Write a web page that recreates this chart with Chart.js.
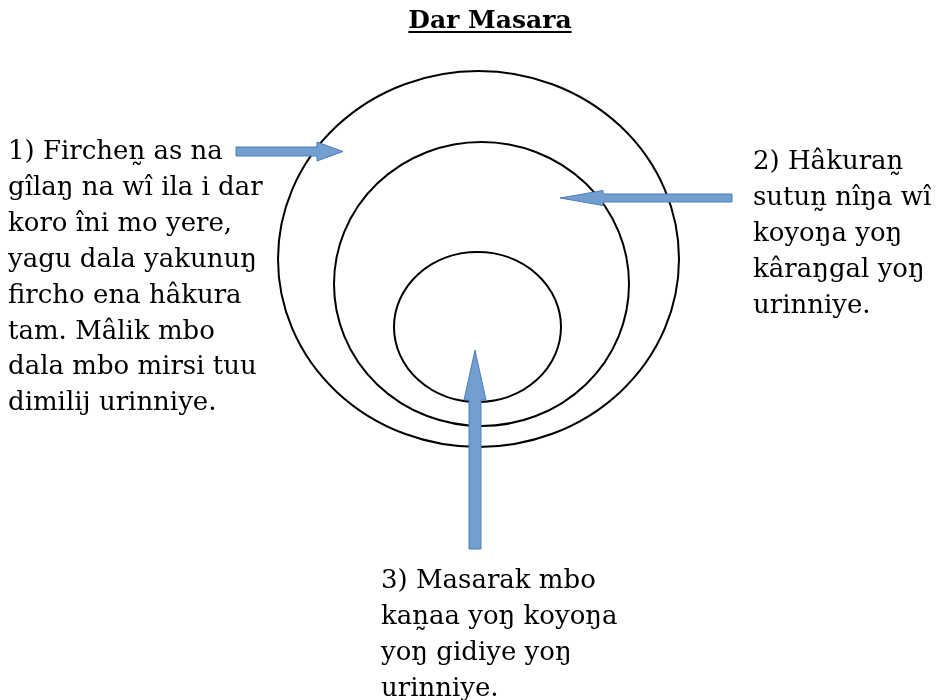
<!DOCTYPE html>
<html>
<head>
<meta charset="utf-8">
<title>Dar Masara</title>
<script src="https://cdn.jsdelivr.net/npm/chart.js@4.4.0/dist/chart.umd.min.js"></script>
<style>
  html, body { margin: 0; padding: 0; background: #ffffff; }
  canvas { display: block; }
</style>
</head>
<body>
<canvas id="grafico" width="941" height="700"></canvas>
<script>
// Anillos de la Dar Masara (unidades del diagrama, eje y hacia abajo)
const anillos = ["fircha", "hakura", "masarak"];
const anilloCentroX = [478.5, 481.5, 477.5];
const anilloCentroY = [259, 284, 327];
const anilloRadioX = [200.5, 147.5, 83.5];
const anilloRadioY = [188, 142, 75];

// Flechas: desde -> hasta
const flechaDesdeX = [236, 732, 475];
const flechaDesdeY = [151.5, 198, 549];
const flechaHastaX = [343, 560, 475];
const flechaHastaY = [151.5, 198, 350];

// Textos
const titulo = "Dar Masara";
const texto1 = [
    "1) Firchen\u0330 as na",
    "gîlaŋ na wî ila i dar",
    "koro îni mo yere,",
    "yagu dala yakunuŋ",
    "fircho ena hâkura",
    "tam. Mâlik mbo",
    "dala mbo mirsi tuu",
    "dimilij urinniye."
];
const texto2 = [
    "2) Hâkuran\u0330",
    "sutun\u0330 nîŋa wî",
    "koyoŋa yoŋ",
    "kâraŋgal yoŋ",
    "urinniye."
];
const texto3 = [
    "3) Masarak mbo",
    "kan\u0330aa yoŋ koyoŋa",
    "yoŋ gidiye yoŋ",
    "urinniye."
];

// Estilos
const fuente = '"DejaVu Serif", serif';
const colorFlecha = "#729fcf";
const bordeFlecha = "#4a7ebb";
const flechaMedioAncho = [4.5, 4, 6];
const flechaMedioCabeza = [9.5, 7.5, 11];
const flechaLargoCabeza = [26, 43, 50];
const bloques = [
    { lineas: texto1, x: 8, y: 159 },
    { lineas: texto2, x: 753, y: 169 },
    { lineas: texto3, x: 381, y: 588 }
];
const altoLinea = 35.9;

const diagramaPlugin = {
    id: "diagrama",
    afterDraw(chart) {
        const ctx = chart.ctx;
        const sx = chart.scales.x;
        const sy = chart.scales.y;
        const px = v => sx.getPixelForValue(v);
        const py = v => sy.getPixelForValue(v);
        const escX = Math.abs(px(1) - px(0));
        const escY = Math.abs(py(1) - py(0));

        ctx.save();

        // anillos
        ctx.strokeStyle = "#000000";
        ctx.lineWidth = 2;
        for (let i = 0; i < anillos.length; i++) {
            ctx.beginPath();
            ctx.ellipse(px(anilloCentroX[i]), py(anilloCentroY[i]),
                anilloRadioX[i] * escX, anilloRadioY[i] * escY, 0, 0, Math.PI * 2);
            ctx.stroke();
        }

        // flechas
        for (let i = 0; i < flechaDesdeX.length; i++) {
            const x0 = px(flechaDesdeX[i]), y0 = py(flechaDesdeY[i]);
            const x1 = px(flechaHastaX[i]), y1 = py(flechaHastaY[i]);
            const len = Math.hypot(x1 - x0, y1 - y0);
            const dx = (x1 - x0) / len, dy = (y1 - y0) / len;
            const nx = -dy, ny = dx;
            const w = flechaMedioAncho[i], h = flechaMedioCabeza[i];
            const bx = x1 - dx * flechaLargoCabeza[i], by = y1 - dy * flechaLargoCabeza[i];
            ctx.beginPath();
            ctx.moveTo(x0 + nx * w, y0 + ny * w);
            ctx.lineTo(bx + nx * w, by + ny * w);
            ctx.lineTo(bx + nx * h, by + ny * h);
            ctx.lineTo(x1, y1);
            ctx.lineTo(bx - nx * h, by - ny * h);
            ctx.lineTo(bx - nx * w, by - ny * w);
            ctx.lineTo(x0 - nx * w, y0 - ny * w);
            ctx.closePath();
            ctx.fillStyle = colorFlecha;
            ctx.fill();
            ctx.strokeStyle = bordeFlecha;
            ctx.lineWidth = 1;
            ctx.stroke();
        }

        // titulo subrayado
        ctx.fillStyle = "#000000";
        ctx.font = "bold 25px " + fuente;
        ctx.textAlign = "center";
        ctx.textBaseline = "alphabetic";
        ctx.fillText(titulo, px(490), py(28));
        const ancho = ctx.measureText(titulo).width;
        ctx.fillRect(px(490) - ancho / 2, py(31), ancho, 2);

        // textos
        ctx.font = "26px " + fuente;
        ctx.textAlign = "left";
        bloques.forEach(b => {
            b.lineas.forEach((linea, j) => {
                ctx.fillText(linea, px(b.x), py(b.y + j * altoLinea));
            });
        });

        ctx.restore();
    }
};

const ctx = document.getElementById("grafico").getContext("2d");
new Chart(ctx, {
    type: "scatter",
    data: {
        datasets: [{
            label: "anillos",
            data: anilloCentroX.map((x, i) => ({ x: x, y: anilloCentroY[i] })),
            pointRadius: 0,
            showLine: false
        }]
    },
    options: {
        responsive: false,
        animation: false,
        devicePixelRatio: 1,
        layout: { padding: 0 },
        scales: {
            x: { type: "linear", min: 0, max: 941, display: false },
            y: { type: "linear", min: 0, max: 700, reverse: true, display: false }
        },
        plugins: {
            legend: { display: false },
            tooltip: { enabled: false },
            title: { display: false }
        }
    },
    plugins: [diagramaPlugin]
});
</script>
</body>
</html>
